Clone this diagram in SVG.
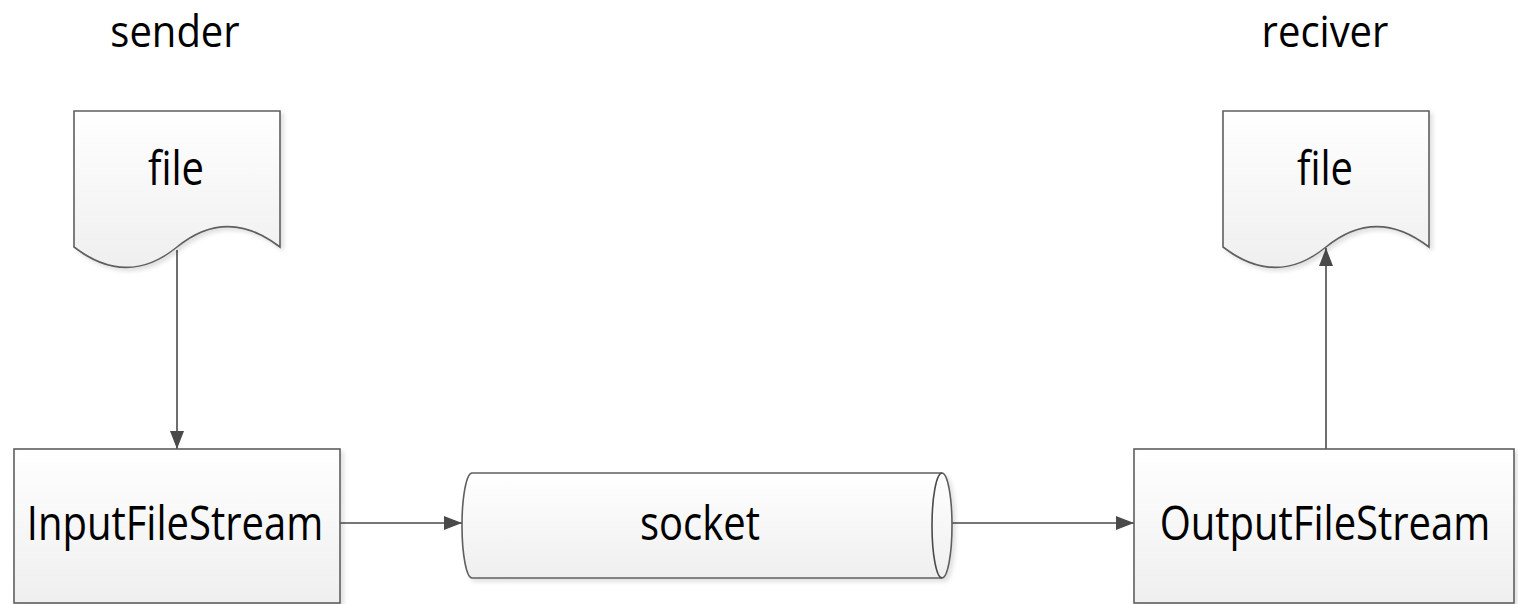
<svg xmlns="http://www.w3.org/2000/svg" width="1518" height="604" viewBox="0 0 1518 604">
  <style>
    .shape { fill: url(#fillGrad); stroke: #5f5f5f; stroke-width: 1.6; filter: url(#shadow); }
    .edge { fill: none; stroke: #4a4a4a; stroke-width: 1.6; }
    .label { font-family: "Open Sans", "Liberation Sans", sans-serif; font-size: 40px; fill: #000; text-anchor: middle; }
  </style>
  <defs>
    <linearGradient id="fillGrad" x1="0" y1="0" x2="0" y2="1">
      <stop offset="0" stop-color="#ffffff"/>
      <stop offset="1" stop-color="#efefef"/>
    </linearGradient>
    <filter id="shadow" x="-10%" y="-10%" width="130%" height="130%">
      <feDropShadow dx="3" dy="3" stdDeviation="2" flood-color="#000" flood-opacity="0.12"/>
    </filter>
    <marker id="arrow" viewBox="0 0 18 14" refX="18" refY="7" markerWidth="18" markerHeight="14" markerUnits="userSpaceOnUse" orient="auto">
      <path d="M0,0 L18,7 L0,14 Z" fill="#4a4a4a"/>
    </marker>
  </defs>

  <!-- side headings -->
  <text class="label" transform="translate(175,47) scale(1,1.08)">sender</text>
  <text class="label" transform="translate(1325,47) scale(1,1.08)">reciver</text>

  <!-- connectors -->
  <g id="connectors">
    <line class="edge" x1="177" y1="250" x2="177" y2="449" marker-end="url(#arrow)"/>
    <line class="edge" x1="340" y1="523" x2="462" y2="523" marker-end="url(#arrow)"/>
    <line class="edge" x1="942" y1="523" x2="1134" y2="523" marker-end="url(#arrow)"/>
    <line class="edge" x1="1326" y1="449" x2="1326" y2="248" marker-end="url(#arrow)"/>
  </g>

  <!-- sender file -->
  <g id="file-sender">
    <path class="shape" d="M74,111 H280 V247 C245,220 210,220 177,247 C144,274 109,274 74,247 Z"/>
    <text class="label" transform="translate(176,185) scale(1,1.2)">file</text>
  </g>

  <!-- receiver file -->
  <g id="file-receiver">
    <path class="shape" d="M1223,111 H1429 V247 C1394,220 1359,220 1326,247 C1293,274 1258,274 1223,247 Z"/>
    <text class="label" transform="translate(1325,185) scale(1,1.2)">file</text>
  </g>

  <!-- input stream -->
  <g id="input-stream">
    <rect class="shape" x="14" y="449" width="326" height="154"/>
    <text class="label" transform="translate(175,540) scale(1,1.2)">InputFileStream</text>
  </g>

  <!-- socket pipe -->
  <g id="socket">
    <path class="shape" d="M472,473 H942 A10,52.5 0 0 1 942,578 H472 A10,52.5 0 0 1 472,473 Z"/>
    <path class="edge" d="M942,473 A10,52.5 0 0 0 942,578" stroke="#5f5f5f"/>
    <text class="label" transform="translate(700,540) scale(1,1.2)">socket</text>
  </g>

  <!-- output stream -->
  <g id="output-stream">
    <rect class="shape" x="1134" y="449" width="380" height="154"/>
    <text class="label" transform="translate(1325,540) scale(1,1.2)">OutputFileStream</text>
  </g>
</svg>
